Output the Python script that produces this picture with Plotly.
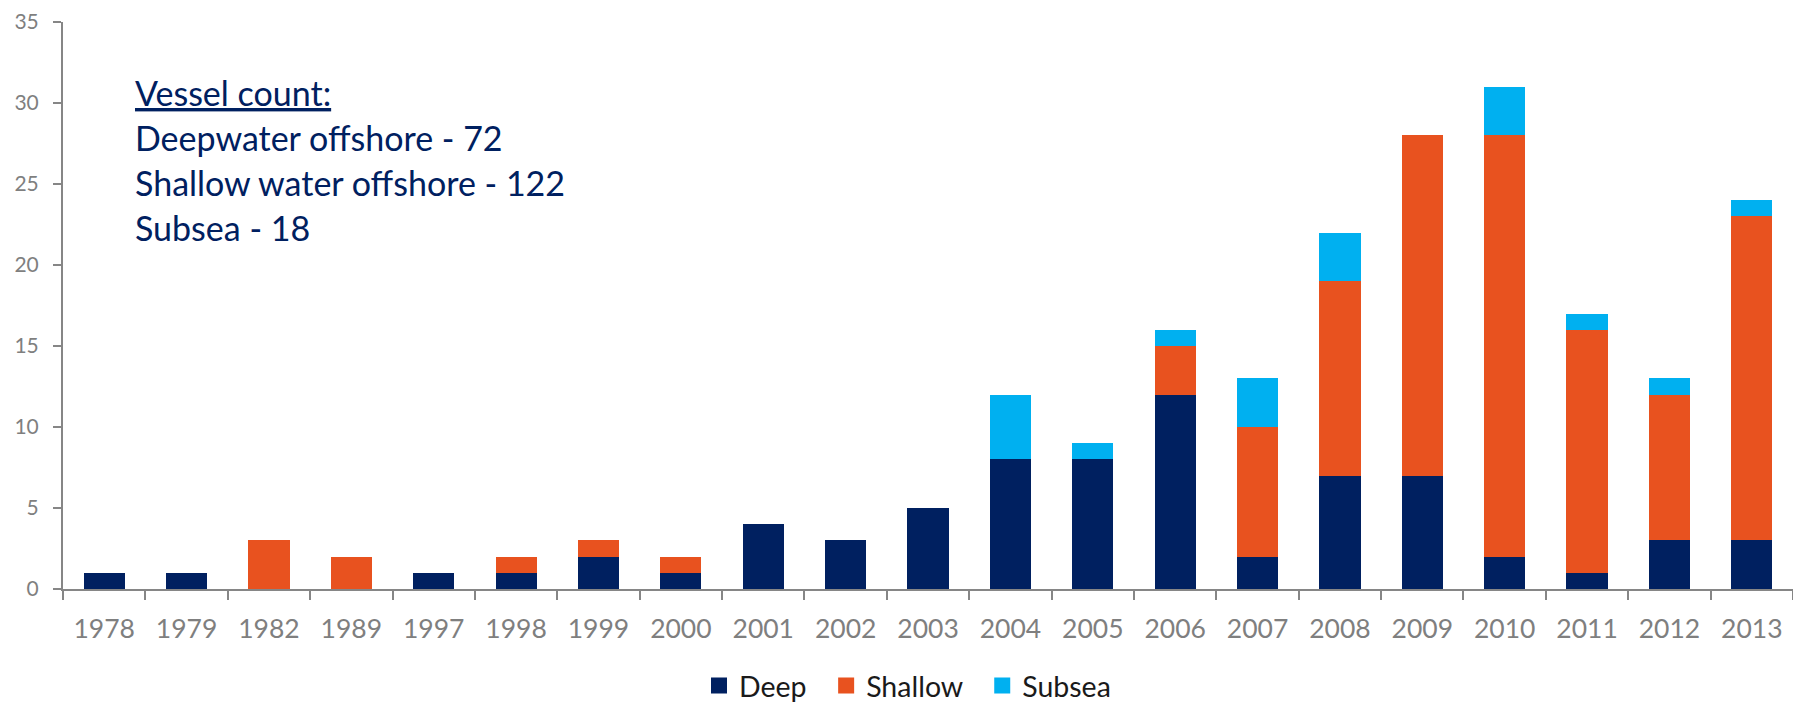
import plotly.graph_objects as go

years = ["1978", "1979", "1982", "1989", "1997", "1998", "1999", "2000", "2001", "2002",
         "2003", "2004", "2005", "2006", "2007", "2008", "2009", "2010", "2011", "2012", "2013"]
deep = [1, 1, 0, 0, 1, 1, 2, 1, 4, 3, 5, 8, 8, 12, 2, 7, 7, 2, 1, 3, 3]
shallow = [0, 0, 3, 2, 0, 1, 1, 1, 0, 0, 0, 0, 0, 3, 8, 12, 21, 26, 15, 9, 20]
subsea = [0, 0, 0, 0, 0, 0, 0, 0, 0, 0, 0, 4, 1, 1, 3, 3, 0, 3, 1, 1, 1]

series = [("Deep", deep, "#002060"), ("Shallow", shallow, "#E8521F"), ("Subsea", subsea, "#00B0F0")]

summary_title = "Vessel count:"
summary_lines = ["Deepwater offshore - 72", "Shallow water offshore - 122", "Subsea - 18"]

FONT = "Lato"
W, H = 1793, 704
L, R, T, B = 63, 0, 22, 115
PW, PH = W - L - R, H - T - B

fig = go.Figure()
for name, vals, col in series:
    fig.add_trace(go.Bar(x=years, y=vals, name=name, marker=dict(color=col, line=dict(width=0)),
                         showlegend=False))
    # square legend swatch (trailing nbsp widens the entry spacing)
    fig.add_trace(go.Scatter(x=[None], y=[None], mode="markers", name=name + "\u00a0\u00a0",
                             marker=dict(symbol="square", size=18, color=col)))

fig.update_layout(
    width=W, height=H,
    barmode="stack", bargap=0.5,
    margin=dict(l=L, r=R, t=T, b=B, autoexpand=False),
    paper_bgcolor="white", plot_bgcolor="white",
    font=dict(family=FONT, color="#7F7F7F"),
    legend=dict(orientation="h", x=(915 - L) / PW, xanchor="center",
                y=-(686 - (H - B)) / PH, yanchor="middle",
                traceorder="normal", itemsizing="trace",
                font=dict(family=FONT, size=28.5, color="#1A1A1A")),
)

fig.update_xaxes(
    type="category", range=[-0.5, 20.5], automargin=False,
    showline=True, linecolor="#868686", linewidth=2,
    ticks="outside", tickson="boundaries", ticklen=9, tickwidth=2, tickcolor="#868686",
    tickfont=dict(family=FONT, size=26.5, color="#7F7F7F"),
    ticklabelstandoff=15, showgrid=False, zeroline=False, fixedrange=True,
)
fig.update_yaxes(
    range=[0, 35], dtick=5, automargin=False,
    showline=True, linecolor="#868686", linewidth=2,
    ticks="outside", ticklen=8, tickwidth=2, tickcolor="#868686",
    tickfont=dict(family=FONT, size=21, color="#7F7F7F"),
    ticklabelstandoff=10, showgrid=False, zeroline=False,
)

# summary text block, one annotation per line
def ypx(py):
    return (H - B - py) / PH

x0 = (133 - L) / PW
lines = ["<u>" + summary_title + "</u>"] + summary_lines
base = 92
for i, txt in enumerate(lines):
    fig.add_annotation(text=txt, xref="paper", yref="paper", x=x0, y=ypx(base + i * 45),
                       xanchor="left", yanchor="middle", showarrow=False,
                       font=dict(family=FONT, size=34, color="#002060"))

fig.write_html("out.html")
